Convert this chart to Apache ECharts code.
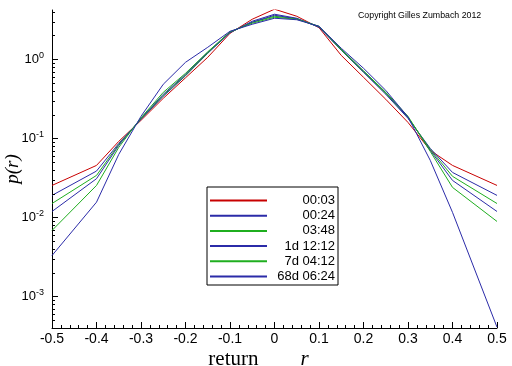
<!DOCTYPE html>
<html><head><meta charset="utf-8">
<script src="https://cdn.jsdelivr.net/npm/echarts/dist/echarts.min.js"></script>
<style>html,body{margin:0;padding:0;background:#fff}#c{width:512px;height:366px}</style>
</head><body><div id="c"></div>
<script>
// ---- data ----
const returns = [-0.5,-0.4,-0.35,-0.3,-0.25,-0.2,-0.15,-0.1,-0.05,0,0.05,0.1,0.15,0.2,0.25,0.3,0.35,0.4,0.5];
const seriesNames = ['00:03','00:24','03:48','1d 12:12','7d 04:12','68d 06:24'];
const p_0003 = [0.0254,0.0455,0.0916,0.169,0.321,0.583,1.06,2.13,3.21,4.30,3.50,2.51,1.12,0.592,0.312,0.159,0.0705,0.0455,0.0254];
const p_0024 = [0.0190,0.0386,0.0864,0.174,0.340,0.618,1.191,2.165,3.027,3.712,3.304,2.542,1.300,0.685,0.361,0.179,0.0747,0.0371,0.0190];
const p_0348 = [0.0150,0.0340,0.0839,0.1765,0.350,0.627,1.208,2.197,2.941,3.502,3.256,2.579,1.319,0.695,0.371,0.184,0.0726,0.0331,0.0150];
const p_1d = [0.0119,0.0309,0.0815,0.179,0.361,0.646,1.226,2.197,2.941,3.606,3.256,2.579,1.339,0.705,0.377,0.184,0.0705,0.0294,0.0119];
const p_7d = [0.00685,0.0254,0.0769,0.182,0.382,0.665,1.244,2.229,2.856,3.401,3.208,2.617,1.339,0.715,0.382,0.190,0.0684,0.0240,0.0089];
const p_68d = [0.0033,0.0156,0.0627,0.190,0.483,0.916,1.419,2.262,2.773,3.304,3.162,2.617,1.380,0.770,0.405,0.186,0.0527,0.0116,0.00041];
const seriesValues = [p_0003,p_0024,p_0348,p_1d,p_7d,p_68d];
const seriesColors = ['#c80000','#2b2ba8','#1fae1f','#2b2ba8','#1fae1f','#2b2ba8'];
const xMin = -0.5, xMax = 0.5, xStep = 0.1;
const yMin = 4e-4, yMax = 4.2;
const copyright = 'Copyright Gilles Zumbach 2012';

// minor log ticks (2..9 x 10^k)
const minorTickValues = [];
for (let k = -4; k <= 0; k++) for (let m = 2; m <= 9; m++) {
  const v = m * Math.pow(10, k);
  if (v > yMin && v < yMax) minorTickValues.push(v);
}

const chart = echarts.init(document.getElementById('c'), null, {renderer: 'canvas'});
const series = seriesNames.map((n, i) => ({
  name: n, type: 'line', symbol: 'none', showSymbol: false, animation: false,
  color: seriesColors[i],
  lineStyle: {width: 1, color: seriesColors[i]},
  data: returns.map((r, j) => [r, seriesValues[i][j]]),
  z: 3
}));
series.push({
  type: 'custom', silent: true, animation: false, clip: false, z: 4,
  data: minorTickValues.map(v => [xMin, v]),
  renderItem: (params, api) => {
    const p = api.coord([api.value(0), api.value(1)]);
    const y = Math.round(p[1]) + 0.5;
    const x = Math.round(p[0]);
    return {type: 'line', shape: {x1: x, y1: y, x2: x + 3, y2: y}, style: {stroke: '#000', lineWidth: 1}};
  }
});

chart.setOption({
  animation: false,
  backgroundColor: '#fff',
  grid: {left: 52, right: 15, top: 10, bottom: 38, containLabel: false, outerBoundsMode: 'none'},
  xAxis: {
    type: 'value', min: xMin, max: xMax, interval: xStep,
    axisLine: {show: true, onZero: false, lineStyle: {color: '#000', width: 1}},
    axisTick: {show: true, inside: true, length: 6, lineStyle: {color: '#000'}},
    minorTick: {show: true, splitNumber: 5, length: 3, lineStyle: {color: '#000'}},
    splitLine: {show: false},
    axisLabel: {color: '#000', fontFamily: 'Liberation Sans', fontSize: 14, margin: 4,
      formatter: v => Math.abs(v) < 1e-9 ? '0' : v.toFixed(1)},
    name: '{a|return}{b|r}', nameLocation: 'middle', nameGap: 21, nameMoveOverlap: false,
    nameTextStyle: {color: '#000', rich: {
      a: {fontFamily: 'Liberation Serif', fontSize: 21, color: '#000'},
      b: {fontFamily: 'Liberation Serif', fontStyle: 'italic', fontSize: 21, color: '#000', padding: [0, 32, 0, 42]}
    }}
  },
  yAxis: {
    type: 'log', logBase: 10, min: yMin, max: yMax,
    axisLine: {show: true, onZero: false, lineStyle: {color: '#000', width: 1}},
    axisTick: {show: true, inside: true, length: 6, lineStyle: {color: '#000'}},
    splitLine: {show: false},
    axisLabel: {showMinLabel: false, showMaxLabel: false, margin: 8, color: '#000',
      formatter: v => {
        const e = Math.log10(v);
        if (Math.abs(e - Math.round(e)) > 1e-6) return '';
        return '{b|10}{s|' + Math.round(e) + '}';
      },
      rich: {
        b: {fontFamily: 'Liberation Sans', fontSize: 13, color: '#000'},
        s: {fontFamily: 'Liberation Sans', fontSize: 9, color: '#000', padding: [0, 0, 8, 0]}
      }
    },
    name: 'p(r)', nameLocation: 'middle', nameGap: 30, nameRotate: 90, nameMoveOverlap: false,
    nameTextStyle: {fontFamily: 'Liberation Serif', fontStyle: 'italic', fontSize: 19, color: '#000'}
  },
  legend: {
    data: seriesNames, orient: 'vertical', left: 207, top: 187,
    padding: [7, 3, 2, 2], itemGap: 2.2, itemWidth: 57, itemHeight: 13,
    borderColor: '#000', borderWidth: 1, backgroundColor: '#fff',
    itemStyle: {opacity: 0},
    formatter: n => '{r|' + n + '}',
    textStyle: {color: '#000', fontFamily: 'Liberation Sans', fontSize: 13,
      rich: {r: {width: 63, align: 'right', fontFamily: 'Liberation Sans', fontSize: 13, color: '#000'}}}
  },
  graphic: [{
    type: 'text', left: 358, top: 11,
    style: {text: copyright, fontFamily: 'Liberation Sans', fontSize: 8.8, fill: '#000'}
  }],
  series: series
});
</script></body></html>
